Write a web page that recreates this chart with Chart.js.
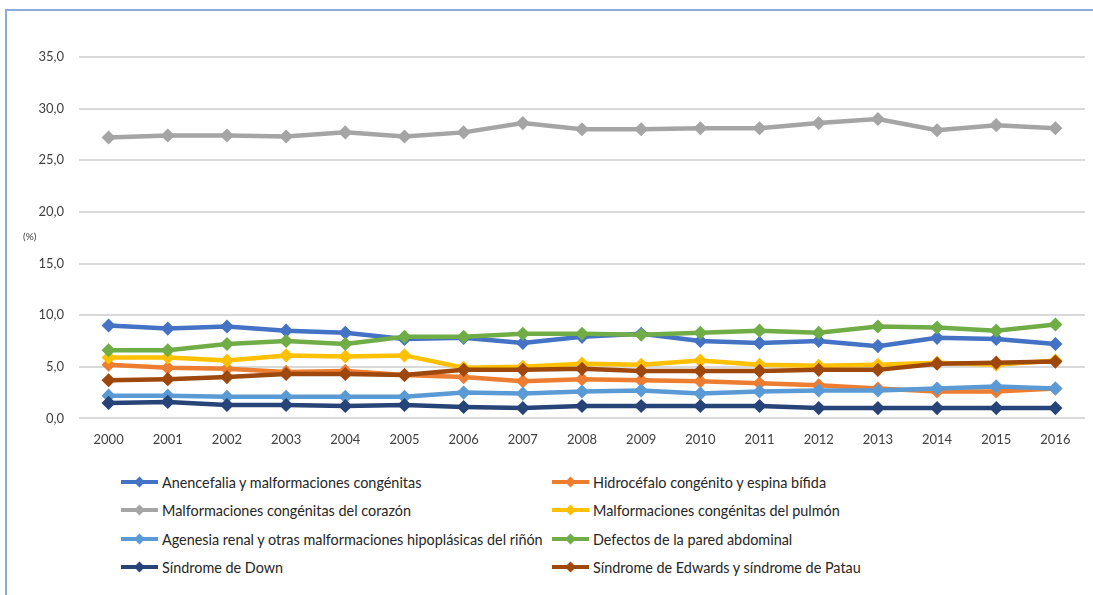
<!DOCTYPE html>
<html lang="es">
<head>
<meta charset="utf-8">
<title>Malformaciones congénitas</title>
<script src="https://cdn.jsdelivr.net/npm/chart.js@4/dist/chart.umd.min.js"></script>
<style>
  html, body { margin: 0; padding: 0; background: #fff; }
  body { width: 1093px; height: 595px; position: relative; overflow: hidden; font-family: Lato, "Open Sans", sans-serif; }
  #frame { position: absolute; left: 5px; top: 9px; width: 1200px; height: 700px;
           border-top: 2px solid #8eaadb; border-left: 2px solid #8eaadb; }
  #chartBox { position: absolute; left: 0; top: 0; width: 1093px; height: 464px; }
  .legend-item { position: absolute; height: 18px; display: flex; align-items: center;
                 font-size: 14.4px; color: #262626; white-space: nowrap; }
  .legend-item svg { margin-right: 4px; }
</style>
</head>
<body>
<div id="frame"></div>
<div id="chartBox"><canvas id="chart"></canvas></div>
<div id="legend"></div>

<script>
// Data
const years = ['2000', '2001', '2002', '2003', '2004', '2005', '2006', '2007', '2008',
               '2009', '2010', '2011', '2012', '2013', '2014', '2015', '2016'];

const anencefalia = [9.0, 8.7, 8.9, 8.5, 8.3, 7.7, 7.8, 7.3, 7.9, 8.2, 7.5, 7.3, 7.5, 7.0, 7.8, 7.7, 7.2];
const hidrocefalo = [5.2, 4.9, 4.8, 4.5, 4.6, 4.2, 4.0, 3.6, 3.8, 3.7, 3.6, 3.4, 3.2, 2.9, 2.6, 2.6, 2.9];
const corazon     = [27.2, 27.4, 27.4, 27.3, 27.7, 27.3, 27.7, 28.6, 28.0, 28.0, 28.1, 28.1, 28.6, 29.0, 27.9, 28.4, 28.1];
const pulmon      = [5.9, 5.9, 5.6, 6.1, 6.0, 6.1, 4.9, 5.0, 5.3, 5.2, 5.6, 5.2, 5.1, 5.2, 5.4, 5.2, 5.6];
const agenesia    = [2.2, 2.2, 2.1, 2.1, 2.1, 2.1, 2.5, 2.4, 2.6, 2.7, 2.4, 2.6, 2.7, 2.7, 2.9, 3.1, 2.9];
const defectos    = [6.6, 6.6, 7.2, 7.5, 7.2, 7.9, 7.9, 8.2, 8.2, 8.1, 8.3, 8.5, 8.3, 8.9, 8.8, 8.5, 9.1];
const down        = [1.5, 1.6, 1.3, 1.3, 1.2, 1.3, 1.1, 1.0, 1.2, 1.2, 1.2, 1.2, 1.0, 1.0, 1.0, 1.0, 1.0];
const edwards     = [3.7, 3.8, 4.0, 4.3, 4.3, 4.2, 4.7, 4.7, 4.8, 4.6, 4.6, 4.6, 4.7, 4.7, 5.3, 5.4, 5.5];

const seriesLabels = [
   'Anencefalia y malformaciones congénitas',
   'Hidrocéfalo congénito y espina bífida',
   'Malformaciones congénitas del corazón',
   'Malformaciones congénitas del pulmón',
   'Agenesia renal y otras malformaciones hipoplásicas del riñón',
   'Defectos de la pared abdominal',
   'Síndrome de Down',
   'Síndrome de Edwards y síndrome de Patau'
];
const seriesValues = [anencefalia, hidrocefalo, corazon, pulmon, agenesia, defectos, down, edwards];
const seriesColors = ['#4472c4', '#ed7d31', '#a5a5a5', '#ffc000', '#5b9bd5', '#70ad47', '#264478', '#9e480e'];

const yTicks = { min: 0, max: 35, step: 5 };
const yUnit = '(%)';

const TEXT_COLOR = '#404040';
const FONT = 'Lato, "Open Sans", sans-serif';


// Small plugin for the "(%)" note next to the value axis
const unitLabel = {
   id: 'unitLabel',
   afterDraw(chart) {
      const ctx = chart.ctx;
      const y = chart.scales.y.getPixelForValue(17.6);
      ctx.save();
      ctx.font = '10px ' + FONT;
      ctx.fillStyle = TEXT_COLOR;
      ctx.textAlign = 'left';
      ctx.textBaseline = 'middle';
      ctx.fillText(yUnit, 23, y);
      ctx.restore();
   }
};


// Build the chart
function initChart() {
   const datasets = seriesLabels.map((label, i) => ({
      label: label,
      data: seriesValues[i],
      borderColor: seriesColors[i],
      backgroundColor: seriesColors[i],
      borderWidth: 4.5,
      pointStyle: 'rectRot',
      pointRadius: 6,
      pointBorderWidth: 1.5,
      tension: 0,
      order: seriesLabels.length - i   // later series on top, like the original
   }));

   new Chart(document.getElementById('chart'), {
      type: 'line',
      data: { labels: years, datasets: datasets },
      options: {
         responsive: true,
         maintainAspectRatio: false,
         animation: false,
         layout: { padding: { top: 57, right: 8, bottom: 10, left: 0 } },
         plugins: {
            legend: { display: false },
            tooltip: { enabled: false }
         },
         scales: {
            x: {
               offset: true,
               grid: { display: false },
               border: { display: false },
               ticks: { color: TEXT_COLOR, font: { family: FONT, size: 13 }, padding: 6, maxRotation: 0 }
            },
            y: {
               min: yTicks.min,
               max: yTicks.max,
               afterFit(scale) { scale.width = 79; },
               grid: { color: '#d9d9d9', lineWidth: 2, drawTicks: false },
               border: { display: false },
               ticks: {
                  stepSize: yTicks.step,
                  padding: 15,
                  color: TEXT_COLOR,
                  font: { family: FONT, size: 13 },
                  callback: v => v.toFixed(1).replace('.', ',')
               }
            }
         }
      },
      plugins: [unitLabel]
   });
}


// Legend in two columns, built from the same series arrays
function createLegend() {
   const legend = document.getElementById('legend');
   const colX = [121, 552];
   const rowY = [482, 510, 539, 567];

   seriesLabels.forEach((label, i) => {
      const item = document.createElement('div');
      item.className = 'legend-item';
      item.style.left = colX[i % 2] + 'px';
      item.style.top = (rowY[Math.floor(i / 2)] - 9) + 'px';

      const c = seriesColors[i];
      item.innerHTML =
         '<svg width="37" height="14" viewBox="0 0 37 14">' +
         '<line x1="0" y1="7" x2="37" y2="7" stroke="' + c + '" stroke-width="4"/>' +
         '<polygon points="18.5,1.5 24,7 18.5,12.5 13,7" fill="' + c + '"/>' +
         '</svg>';
      const span = document.createElement('span');
      span.textContent = label;
      item.appendChild(span);

      legend.appendChild(item);
   });
}


function init() {
   initChart();
   createLegend();
}

init();
</script>
</body>
</html>
